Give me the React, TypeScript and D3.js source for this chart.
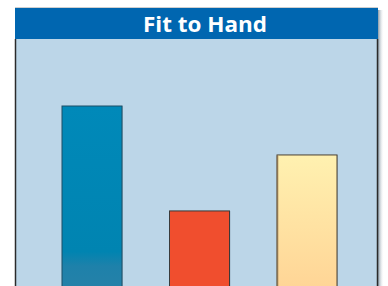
import React from "react";
import * as d3 from "d3";

const title = "Fit to Hand";
const categories = ["A", "B", "C"];
const values = [100, 41.7, 72.8];

const W = 388;
const H = 286;

export default function App() {
  const panel = { x0: 15, x1: 378, top: 8, headerBottom: 39 };
  const x = d3.scaleBand().domain(categories).range([62, 337]).paddingInner(47.5 / 107.5).paddingOuter(0);
  const y = d3.scaleLinear().domain([0, 100]).range([286, 106]);
  const bw = x.bandwidth();
  return (
    <svg width={W} height={H} style={{ position: "absolute", left: 0, top: 0 }}>
      <defs>
        <linearGradient id="gBlue" x1="0" y1="0" x2="0" y2="1">
          <stop offset="0" stopColor="#0089b9" />
          <stop offset="0.8" stopColor="#0084b1" />
          <stop offset="0.88" stopColor="#1e81aa" />
          <stop offset="1" stopColor="#2581a8" />
        </linearGradient>
        <linearGradient id="gYellow" x1="0" y1="0" x2="0" y2="1">
          <stop offset="0" stopColor="#fff1b0" />
          <stop offset="1" stopColor="#ffd596" />
        </linearGradient>
        <linearGradient id="shadowR" x1="0" y1="0" x2="1" y2="0">
          <stop offset="0" stopColor="#6b8090" stopOpacity="0.8" />
          <stop offset="1" stopColor="#ffffff" stopOpacity="0" />
        </linearGradient>
      </defs>
      <rect x={0} y={0} width={W} height={H} fill="#ffffff" />
      <rect x={panel.x1} y={panel.top + 2} width={6} height={H} fill="url(#shadowR)" />
      <rect x={panel.x0} y={panel.top - 1} width={panel.x1 - panel.x0} height={1} fill="#cfcfcf" />
      <rect x={panel.x0} y={panel.headerBottom} width={panel.x1 - panel.x0} height={H - panel.headerBottom} fill="#bcd6e8" />
      <line x1={panel.x0 + 0.5} y1={panel.headerBottom} x2={panel.x0 + 0.5} y2={H} stroke="#2b2b2b" strokeWidth={1.5} />
      <line x1={panel.x1 - 0.5} y1={panel.headerBottom} x2={panel.x1 - 0.5} y2={H} stroke="#2b2b2b" strokeWidth={1.5} />
      <rect x={panel.x0} y={panel.top} width={panel.x1 - panel.x0} height={panel.headerBottom - panel.top} fill="#0066b0" />
      <text x={205} y={32} textAnchor="middle" fill="#ffffff" fontFamily="'Open Sans', sans-serif" fontWeight={700} fontSize={21} textLength={124} lengthAdjust="spacingAndGlyphs">{title}</text>
      {values.map((v, i) => {
        const fills = ["url(#gBlue)", "#f04e2e", "url(#gYellow)"];
        const strokes = ["#1d4e66", "#3a3a3a", "#4a4032"];
        const bx = x(categories[i]) as number;
        const by = y(v);
        return (
          <g key={categories[i]}>
            <rect x={bx + 1} y={by} width={bw} height={H - by + 2} fill="#8aa0b0" opacity={0.6} />
            <rect x={bx} y={by} width={bw} height={H - by + 2} fill={fills[i]} stroke={strokes[i]} strokeWidth={1} />
            {i === 2 && <line x1={bx + 0.5} y1={by + 1} x2={bx + 0.5} y2={H} stroke="#8d7550" strokeWidth={1.5} />}
          </g>
        );
      })}
    </svg>
  );
}
